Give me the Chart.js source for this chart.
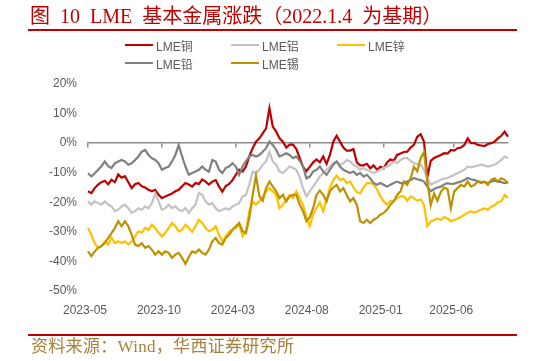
<!DOCTYPE html>
<html>
<head>
<meta charset="utf-8">
<title>LME 基本金属涨跌</title>
<script src="https://cdn.jsdelivr.net/npm/chart.js@4.4.1/dist/chart.umd.min.js"></script>
<style>
  html, body { margin: 0; padding: 0; background: #fff; }
  #wrap { position: relative; width: 533px; height: 361px; overflow: hidden; }
  #chart { position: absolute; left: 0; top: 0; }
  .title { position: absolute; left: 30px; top: 6px; font: 20px/20px "Liberation Serif", "Noto Sans CJK SC", serif; color: #c00000; white-space: nowrap; word-spacing: 5px; }
  .rule { position: absolute; left: 28px; width: 489px; height: 2.5px; background: #c00000; }
  .source { position: absolute; left: 31px; top: 338px; font: 17px/17px "Liberation Serif", "Noto Sans CJK SC", serif; color: #a6803f; white-space: nowrap; letter-spacing: 0.3px; }
  #legend { position: absolute; left: 125px; top: 36px; display: grid; grid-template-columns: 106px 106px 106px; grid-auto-rows: 18px; font: 12px "Liberation Sans", "Noto Sans CJK SC", sans-serif; color: #595959; }
  #legend .item { display: flex; align-items: center; white-space: nowrap; }
  #legend .swatch { width: 28px; height: 2.5px; margin-right: 3px; }
</style>
</head>
<body>
<div id="wrap">
  <canvas id="chart" width="533" height="361"></canvas>
  <div class="title">图 10 LME 基本金属涨跌（2022.1.4 为基期）</div>
  <div class="rule" style="top:28.5px"></div>
  <div id="legend"></div>
  <div class="rule" style="top:333.5px"></div>
  <div class="source">资料来源：Wind，华西证券研究所</div>
</div>
<script>
// weekly points, first week of May 2023 onwards
var startDate = Date.UTC(2023, 4, 1);
var weekCount = 126;
var categories = [];
for (var w = 0; w < weekCount; w++) {
    categories.push(new Date(startDate + w * 7 * 86400000).toISOString().slice(0, 10));
}

// axis tick labels
var tickMonths = ["2023-05", "2023-10", "2024-03", "2024-08", "2025-01", "2025-06"];
var yTicks = [20, 10, 0, -10, -20, -30, -40, -50];

// series, % change vs 2022-01-04
var seriesNames = ["LME铜", "LME铝", "LME锌", "LME铅", "LME锡"];

var copper = [-16.3,-16.9,-15.2,-14,-13.2,-12.7,-13.9,-12.4,-13.2,-10.6,
    -11.7,-11.2,-13.2,-15.2,-13.9,-13.5,-14.6,-15,-15.8,-16.3,
    -15.8,-17.5,-18.6,-18,-17.5,-17,-16.3,-15.8,-14.6,-13.5,
    -14,-14.7,-13.5,-13.8,-12.3,-13,-14,-13,-12.5,-14.7,
    -16.4,-14.5,-13.8,-12.5,-10.7,-9,-9.6,-7.9,-4.5,-1.7,
    0.5,1.6,3.3,5,11.8,5.6,3.9,1.6,0.5,-1.5,
    -0.5,-0.5,-2,-5,-8,-9.5,-8,-6.5,-5.5,-6.5,
    -4.5,-7,-4,0.5,2.5,0.5,-1.5,-2.5,-2.5,-2,
    -6.5,-7.5,-7.5,-7,-8.5,-7.5,-9,-8,-8.5,-6.5,
    -5.5,-6,-4,-3.5,-3,-2.9,-1.5,-0.6,2.2,3,
    0.5,-11.5,-6,-5,-4.5,-4,-3.4,-3.5,-2.3,-2.5,
    -1.7,-1.5,-0.6,1.6,0,0,-0.6,-0.8,-1,-0.3,
    0,0.5,1.6,2.5,3.9,2.2];

var aluminium = [-19.7,-20.8,-19.7,-20.3,-20.8,-19.7,-20.8,-21.4,-23,-22.5,
    -21.4,-20.8,-22,-23.6,-23,-22,-22.5,-21.4,-22,-20.3,
    -17,-19.7,-22.5,-22,-20.8,-22,-21.4,-22.5,-23,-22,
    -23.6,-22,-20.8,-16.9,-17.5,-19.7,-20.8,-20.3,-22,-23,
    -22.5,-22,-22.5,-21.4,-20.8,-20.3,-18,-17.5,-14.1,-9.6,
    -10.1,-9,-7.3,-6.2,-3,-6.2,-7.3,-9.6,-10.1,-9,
    -7.9,-8.4,-9,-11.5,-15.2,-18,-16.3,-14.7,-13,-11.3,
    -10.1,-9,-7.9,-6.8,-6.2,-7.3,-6.8,-5.7,-6.2,-7.3,
    -7.9,-9,-8.4,-9,-9.6,-10.1,-9.6,-9,-8.4,-7.9,
    -7.3,-6.2,-6.8,-5.7,-5.1,-5.1,-6,-6.8,-7,-7.3,
    -9,-11.8,-14.1,-13.5,-13,-12.4,-12,-11.8,-11.3,-10.7,
    -10.1,-9.6,-9,-7.9,-8.2,-7.9,-7.6,-7.3,-7.6,-7.9,
    -7.6,-7.3,-6.5,-5.7,-4.5,-5];

var zinc = [-28.7,-31,-33.8,-35.4,-34.8,-33.2,-34.3,-32,-33.8,-33.2,
    -33.8,-33.2,-34.3,-33.2,-31.5,-29.8,-30.3,-28.7,-29.3,-27.6,
    -28.7,-30.3,-31.5,-30.3,-28.7,-27,-28.1,-29.8,-29.3,-27.6,
    -28.7,-30,-28.1,-25.9,-27,-28.7,-29.8,-29.3,-28.1,-31,
    -33.2,-31.5,-29.8,-29.3,-28.7,-27.6,-31.5,-29.8,-23,-19.7,
    -20.8,-19.7,-18,-16.3,-15.2,-16.3,-17.5,-22,-20.8,-19.2,
    -17.5,-18.6,-16.3,-18.6,-21,-25,-28,-24,-22,-20,
    -23,-19,-15,-12.5,-11,-12.5,-12,-13.5,-13,-15,
    -16.5,-17,-15,-13.5,-13.5,-14,-15.5,-18,-19.7,-20.8,
    -19.5,-19.5,-18.6,-18,-18,-19.5,-18,-18.6,-19.5,-19,
    -21,-28,-26.5,-26,-25.5,-26,-25,-25.5,-26.4,-26,
    -25.5,-25,-24.2,-23.5,-23,-23.5,-23,-22.5,-22,-22.5,
    -21.5,-21,-20,-19.7,-17.5,-18.5];

var lead = [-10.2,-11.3,-10.2,-9,-7.8,-6.2,-7.8,-8.4,-6.8,-6.2,
    -5.7,-6.2,-7.3,-6.8,-5.7,-4.5,-2.9,-2.3,-4,-5.1,
    -5.7,-6.8,-9,-8.4,-7.9,-6.2,-4,-0.6,-4.5,-7.9,
    -10.7,-10.1,-9.6,-9,-7.9,-9,-9.6,-5.7,-6.2,-9,
    -10.1,-8.4,-7.9,-6.8,-7.9,-10.7,-7.9,-6.2,-4.5,-4,
    -4.5,-4,-2.9,-1.7,0.5,-0.6,-2.3,-4.5,-4,-3.4,
    -4,-5.1,-4.5,-6,-7.9,-11.9,-11.3,-9.6,-9,-7.9,
    -9.6,-10.7,-9,-7.3,-6.2,-7.9,-9,-9.6,-10.1,-9.6,
    -10.7,-10.1,-11.3,-10.7,-11.9,-13.5,-14.1,-13.5,-14.1,-14.7,
    -14.1,-13.5,-13,-13.5,-13.5,-13,-12.5,-11.8,-12.2,-12.5,
    -13,-14.7,-16.3,-15.5,-15,-14.7,-14,-13.5,-13.8,-13.7,
    -13.3,-13,-12.5,-11.8,-12.2,-12.5,-12.8,-13.2,-13.2,-13.5,
    -13,-12.7,-13,-13.2,-13.5,-13.3];

var tin = [-36.6,-38.2,-36.6,-35.4,-34.8,-33.8,-32.1,-30.4,-28.7,-26.4,
    -28.1,-26.4,-28.1,-31,-34.3,-34.8,-33.8,-35.4,-34.8,-36,
    -37.7,-36.6,-37.7,-36.6,-37.1,-38.8,-37.7,-37.1,-38.8,-40.8,
    -38.5,-36.6,-37.1,-36,-37.1,-37.7,-36,-33.2,-32.1,-33.8,
    -34.3,-32.1,-31,-29.3,-28.1,-27,-29.8,-30.4,-25.3,-17.5,
    -11,-18,-19.5,-15.2,-13,-14.7,-16.3,-18.6,-17.5,-19.7,
    -18,-17.5,-17.5,-20.8,-23,-26.4,-25,-22,-17.5,-16,
    -17.5,-19.7,-16.3,-15,-14.1,-16.3,-15.2,-17.5,-19.7,-18.6,
    -20.8,-26.4,-27,-25.9,-27,-25.9,-25.3,-24.2,-23.6,-22.5,
    -20.8,-19.7,-17.5,-16.3,-13,-14.1,-12,-8,-9.5,-5.1,
    -3,-13,-21,-17,-19.5,-16.5,-15,-15.5,-22,-16.3,
    -15.2,-14.1,-14.7,-13,-14.7,-14.1,-13,-13.5,-13,-14.1,
    -12.4,-11.9,-13,-11.9,-12.4,-13.5];

var seriesData = [copper, aluminium, zinc, lead, tin];
var seriesColors = ["#c00000", "#c3c3c3", "#ffc000", "#808080", "#bf9000"];

// first week of each labelled month
var tickIndex = tickMonths.map(function(m) {
    return categories.findIndex(function(d) { return d.slice(0, 7) === m; });
});
function tickText(i) {
    var k = tickIndex.indexOf(i);
    return k >= 0 ? tickMonths[k] : "";
}

var axisFont = { family: "Liberation Sans", size: 12 };

var chart = new Chart(document.getElementById("chart").getContext("2d"), {
    type: "line",
    data: {
        labels: categories,
        datasets: seriesNames.map(function(name, i) {
            return {
                label: name,
                data: seriesData[i],
                borderColor: seriesColors[i],
                backgroundColor: seriesColors[i],
                borderWidth: 2.2,
                pointRadius: 0,
                tension: 0,
                order: seriesNames.length - i
            };
        })
    },
    options: {
        responsive: false,
        animation: false,
        layout: { padding: { left: 28, right: 25, top: 84, bottom: 40 } },
        plugins: { legend: { display: false }, tooltip: { enabled: false } },
        scales: {
            x: {
                type: "category",
                position: "bottom",
                grid: { display: false, drawTicks: false },
                border: { display: false },
                ticks: {
                    autoSkip: false,
                    maxRotation: 0,
                    padding: 12,
                    labelOffset: -3,
                    color: "#595959",
                    font: axisFont,
                    callback: function(v, i) { return tickText(i); }
                },
                afterFit: function(s) { s.height = 30; }
            },
            zero: {
                type: "category",
                axis: "x",
                position: { y: 0 },
                grid: {
                    drawOnChartArea: false,
                    drawTicks: true,
                    tickLength: 4,
                    lineWidth: 1.5,
                    color: function(c) { return c.tick && c.tick.label ? "#8c8c8c" : "rgba(0,0,0,0)"; }
                },
                border: { display: true, color: "#8c8c8c", width: 1.5 },
                ticks: {
                    display: false,
                    autoSkip: false,
                    callback: function(v, i) { return tickText(i); }
                }
            },
            y: {
                min: yTicks[yTicks.length - 1],
                max: yTicks[0],
                grid: { display: false, drawTicks: false },
                border: { display: false },
                ticks: {
                    stepSize: 10,
                    padding: 11,
                    color: "#595959",
                    font: axisFont,
                    callback: function(v) { return v + "%"; }
                },
                afterFit: function(s) { s.width = 60; }
            }
        }
    }
});

// html legend, three columns like the original
var legendBox = document.getElementById("legend");
chart.data.datasets.forEach(function(ds) {
    var item = document.createElement("div");
    item.className = "item";
    var sw = document.createElement("span");
    sw.className = "swatch";
    sw.style.background = ds.borderColor;
    item.appendChild(sw);
    item.appendChild(document.createTextNode(ds.label));
    legendBox.appendChild(item);
});
</script>
</body>
</html>
